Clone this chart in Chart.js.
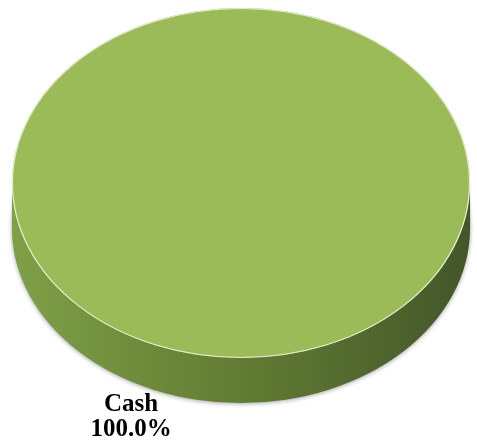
<!DOCTYPE html>
<html>
<head>
<meta charset="utf-8">
<script src="https://cdn.jsdelivr.net/npm/chart.js@4/dist/chart.umd.min.js"></script>
<style>
  html, body { margin: 0; padding: 0; background: #fff; }
  #wrap { width: 477px; height: 447px; }
</style>
</head>
<body>
<div id="wrap"><canvas id="pieChart"></canvas></div>
<script>
const categories = ['Cash'];
const values = [100];

// 3D look: squash the pie into an ellipse and extrude a darker side below it
const tiltPlugin = {
    id: 'tilt3d',
    beforeDatasetsDraw(chart, args, opts) {
        const arc = chart.getDatasetMeta(0).data[0];
        if (!arc) return;
        const ctx = chart.ctx;
        const r = arc.outerRadius;
        const sx = opts.stretchX;
        const rx = r * sx;
        ctx.save();
        // side of the disc
        const grad = ctx.createLinearGradient(arc.x - rx, 0, arc.x + rx, 0);
        grad.addColorStop(0, '#7fa047');
        grad.addColorStop(0.5, '#617c33');
        grad.addColorStop(1, '#44562a');
        ctx.shadowColor = 'rgba(0,0,0,0.35)';
        ctx.shadowBlur = 4;
        ctx.shadowOffsetY = 1;
        ctx.fillStyle = grad;
        ctx.beginPath();
        ctx.ellipse(arc.x, arc.y + opts.depth, rx, r, 0, 0, Math.PI * 2);
        ctx.fill();
        ctx.shadowColor = 'transparent';
        ctx.fillRect(arc.x - rx, arc.y, rx * 2, opts.depth);
        ctx.restore();
        // stretch the top face horizontally
        ctx.save();
        ctx.translate(arc.x, arc.y);
        ctx.scale(sx, 1);
        ctx.translate(-arc.x, -arc.y);
    },
    afterDatasetsDraw(chart, args, opts) {
        const ctx = chart.ctx;
        ctx.restore();
        const arc = chart.getDatasetMeta(0).data[0];
        if (!arc) return;
        // light rim round the top face
        const r = arc.outerRadius;
        ctx.save();
        ctx.strokeStyle = '#e6eed2';
        ctx.lineWidth = 1.2;
        ctx.beginPath();
        ctx.ellipse(arc.x, arc.y, r * opts.stretchX - 0.5, r - 0.5, 0, 0, Math.PI * 2);
        ctx.stroke();
        ctx.restore();
    }
};

const labelPlugin = {
    id: 'sliceLabels',
    afterDraw(chart, args, opts) {
        const arc = chart.getDatasetMeta(0).data[0];
        if (!arc) return;
        const ctx = chart.ctx;
        const total = values.reduce((a, b) => a + b, 0);
        const pct = (values[0] / total * 100).toFixed(1) + '%';
        ctx.save();
        ctx.fillStyle = '#000';
        ctx.font = 'bold 25px "Liberation Serif", "Times New Roman", serif';
        ctx.textAlign = 'center';
        ctx.textBaseline = 'alphabetic';
        const x = arc.x + opts.dx;
        ctx.fillText(categories[0], x, arc.y + opts.dy);
        ctx.fillText(pct, x, arc.y + opts.dy + 25);
        ctx.restore();
    }
};

new Chart(document.getElementById('pieChart'), {
    type: 'pie',
    data: {
        labels: categories,
        datasets: [{
            data: values,
            backgroundColor: ['#9bbb59'],
            borderWidth: 0
        }]
    },
    options: {
        responsive: true,
        maintainAspectRatio: false,
        animation: false,
        layout: { padding: { left: 12, right: 7, top: 8, bottom: 89 } },
        plugins: {
            legend: { display: false },
            tooltip: { enabled: false },
            tilt3d: { stretchX: 1.309, depth: 45 },
            sliceLabels: { dx: -110, dy: 228 }
        }
    },
    plugins: [tiltPlugin, labelPlugin]
});
</script>
</body>
</html>
